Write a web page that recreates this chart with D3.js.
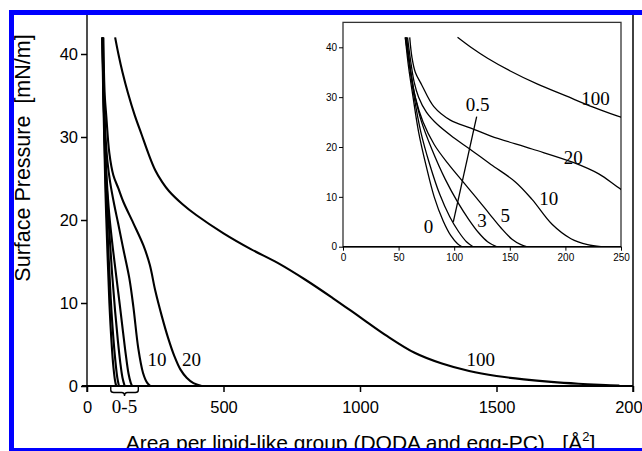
<!DOCTYPE html>
<html><head><meta charset="utf-8">
<script src="https://cdn.jsdelivr.net/npm/d3@7/dist/d3.min.js"></script>
<style>html,body{margin:0;padding:0;background:#fff;overflow:hidden} text{white-space:pre}</style>
</head><body><svg id="c" width="642" height="451" xmlns="http://www.w3.org/2000/svg"></svg>
<script>
// ---- data: surface pressure isotherms [area (Å²), pressure (mN/m)] ----
const curve0   = [[56,42],[59,36],[63,30],[68,23],[75,16],[82,10],[90,5.2],[97,2.2],[103,0.6],[107,0]];
const curve05  = [[56,42],[60,36],[64,30],[70,23],[78,16.5],[87,10.5],[96,6],[104,3],[111,1],[117,0]];
const curve3   = [[57,42],[61,35],[64,31],[70,25.5],[80,19.5],[92,13.5],[103,9],[113,5.5],[122,2.8],[130,1],[138,0]];
const curve5   = [[57,42],[61,35],[65,30],[72,25],[82,20.5],[95,16.5],[108,13],[120,9.8],[132,6.5],[142,3.8],[152,1.5],[160,0.4],[165,0]];
const curve10  = [[58,42],[61,37],[64,33],[68,30],[75,27],[85,24.5],[100,21.8],[114,19.6],[133,16.5],[155,13],[170,9.5],[188,4.5],[205,1.6],[220,0.4],[232,0]];
const curve20  = [[60,42],[62,38],[65,35],[70.7,32.5],[81.7,28.1],[96.5,25.4],[115,23.8],[133,22.2],[170,19.6],[207,16.9],[230,14.6],[250,11.5],[275,8.3],[297,5.8],[320,3.6],[342,2.0],[365,1.0],[390,0.35],[420,0]];
const curve100 = [[103,42],[115,40],[130,37.8],[150,35.3],[175,32.6],[200,30.3],[225,28],[250,26],[275,24.6],[300,23.5],[350,21.9],[400,20.6],[500,18.4],[600,16.5],[700,14.8],[800,12.8],[900,10.6],[1000,8.3],[1100,6.0],[1200,4.0],[1300,2.7],[1400,1.8],[1500,1.2],[1600,0.8],[1700,0.5],[1800,0.28],[1900,0.12],[1950,0.05]];
const allCurves = [curve0, curve05, curve3, curve5, curve10, curve20, curve100];

const mainXTicks = [0, 500, 1000, 1500, 2000];
const mainYTicks = [0, 10, 20, 30, 40];
const insetXTicks = [0, 50, 100, 150, 200, 250];
const insetYTicks = [0, 10, 20, 30, 40];

// curve labels: [text, x, baseline y] in data units
const mainLabels = [["10", 256, 2.4], ["20", 383, 2.4], ["100", 1442, 2.4]];
const bracketRange = [87, 188];
const bracketLabel = "0-5";
const insetLabels = [["100", 227, 28.4], ["0.5", 121, 27.3], ["20", 207, 16.6], ["10", 185, 8.3], ["5", 146, 5.0], ["3", 125, 4.0], ["0", 77, 2.75]];
const pointer = [[99.2, 5.0], [120.2, 26.1]];

const svg = d3.select("#c");
const sans = "'Liberation Sans', Arial, sans-serif";
const serif = "'Liberation Serif', 'Times New Roman', serif";
const smooth = d3.curveCatmullRom.alpha(0.5);

// ---- main plot ----
const x = d3.scaleLinear().domain([0, 2000]).range([87, 633]);
const y = d3.scaleLinear().domain([0, 40]).range([386, 54]);

const gMain = svg.append("g");
gMain.append("line").attr("x1", x(0)).attr("x2", x(0)).attr("y1", 14).attr("y2", y(0) + 6)
  .attr("stroke", "#222").attr("stroke-width", 1.6);
gMain.append("line").attr("x1", x(2000)).attr("x2", x(2000)).attr("y1", 14).attr("y2", y(0) + 6)
  .attr("stroke", "#111").attr("stroke-width", 1.6);
gMain.append("line").attr("x1", x(0) - 5).attr("x2", x(2000)).attr("y1", y(0)).attr("y2", y(0))
  .attr("stroke", "#000").attr("stroke-width", 2);

const ax = gMain.append("g").attr("transform", `translate(0,${y(0)})`)
  .call(d3.axisBottom(x).tickValues(mainXTicks).tickSize(6).tickPadding(9).tickFormat(d3.format("d")));
ax.select(".domain").remove();
ax.selectAll("line").attr("stroke-width", 1.5);
ax.selectAll("text").attr("font-family", sans).attr("font-size", 16.5).attr("fill", "#000");

const ay = gMain.append("g").attr("transform", `translate(${x(0)},0)`)
  .call(d3.axisLeft(y).tickValues(mainYTicks).tickSize(6).tickPadding(3));
ay.select(".domain").remove();
ay.selectAll("line").attr("stroke-width", 1.5);
ay.selectAll("text").attr("font-family", sans).attr("font-size", 16.5).attr("fill", "#000");

const lineMain = d3.line().x(d => x(d[0])).y(d => y(d[1])).curve(smooth);
gMain.selectAll("path.c").data(allCurves).join("path").attr("class", "c")
  .attr("d", lineMain).attr("fill", "none").attr("stroke", "#000").attr("stroke-width", 2.1);

gMain.selectAll("text.lab").data(mainLabels).join("text").attr("class", "lab")
  .attr("x", d => x(d[1])).attr("y", d => y(d[2])).attr("text-anchor", "middle")
  .attr("font-family", serif).attr("font-size", 19).text(d => d[0]);

// bracket under axis for 0-5 curves
{
  const bx0 = x(bracketRange[0]), bx1 = x(bracketRange[1]), bm = (bx0 + bx1) / 2, by = y(0);
  const p = `M${bx0},${by} L${bx0},${by + 4} Q${bx0},${by + 6.5} ${bx0 + 3},${by + 6.5} L${bm - 3},${by + 6.5} Q${bm},${by + 6.5} ${bm},${by + 10} Q${bm},${by + 6.5} ${bm + 3},${by + 6.5} L${bx1 - 3},${by + 6.5} Q${bx1},${by + 6.5} ${bx1},${by + 4} L${bx1},${by}`;
  gMain.append("path").attr("d", p).attr("fill", "none").attr("stroke", "#000").attr("stroke-width", 1.4);
  gMain.append("text").attr("x", bm).attr("y", 413).attr("text-anchor", "middle")
    .attr("font-family", serif).attr("font-size", 19).text(bracketLabel);
}

// axis titles
svg.append("text").attr("transform", "translate(30,158) rotate(-90)").attr("text-anchor", "middle")
  .attr("font-family", sans).attr("font-size", 21.5).text("Surface Pressure  [mN/m]");
const xt = svg.append("text").attr("x", 360.5).attr("y", 449.5).attr("text-anchor", "middle")
  .attr("font-family", sans).attr("font-size", 21);
xt.append("tspan").text("Area per lipid-like group (DODA and egg-PC)   [Å");
xt.append("tspan").attr("font-size", 13).attr("dy", -9).text("2");
xt.append("tspan").attr("dy", 9).text("]");

// ---- inset ----
const xi = d3.scaleLinear().domain([0, 250]).range([343, 621]);
const yi = d3.scaleLinear().domain([0, 40]).range([246.7, 47.3]);
const gIn = svg.append("g");
gIn.append("rect").attr("x", xi(0)).attr("y", yi(45)).attr("width", xi(250) - xi(0)).attr("height", yi(0) - yi(45))
  .attr("fill", "#fff").attr("stroke", "#333").attr("stroke-width", 1.3);
svg.append("defs").append("clipPath").attr("id", "clipIn").append("rect")
  .attr("x", xi(0)).attr("y", yi(45)).attr("width", xi(250) - xi(0)).attr("height", yi(0) - yi(45));

const axi = gIn.append("g").attr("transform", `translate(0,${yi(0)})`)
  .call(d3.axisBottom(xi).tickValues(insetXTicks).tickSize(4).tickPadding(3));
axi.select(".domain").remove();
axi.selectAll("text").attr("font-family", sans).attr("font-size", 10).attr("fill", "#000");
const ayi = gIn.append("g").attr("transform", `translate(${xi(0)},0)`)
  .call(d3.axisLeft(yi).tickValues(insetYTicks).tickSize(4).tickPadding(2));
ayi.select(".domain").remove();
ayi.selectAll("text").attr("font-family", sans).attr("font-size", 10).attr("fill", "#000");
gIn.append("line").attr("x1", xi(0)).attr("x2", xi(250)).attr("y1", yi(0)).attr("y2", yi(0))
  .attr("stroke", "#000").attr("stroke-width", 1.6);

const lineIn = d3.line().x(d => xi(d[0])).y(d => yi(d[1])).curve(smooth);
gIn.append("g").attr("clip-path", "url(#clipIn)").selectAll("path").data(allCurves).join("path")
  .attr("d", lineIn).attr("fill", "none").attr("stroke", "#000").attr("stroke-width", 1.3);

gIn.append("line").attr("x1", xi(pointer[0][0])).attr("y1", yi(pointer[0][1]))
  .attr("x2", xi(pointer[1][0])).attr("y2", yi(pointer[1][1])).attr("stroke", "#000").attr("stroke-width", 1.3);

gIn.selectAll("text.lab").data(insetLabels).join("text").attr("class", "lab")
  .attr("x", d => xi(d[1])).attr("y", d => yi(d[2])).attr("text-anchor", "middle")
  .attr("font-family", serif).attr("font-size", 19).text(d => d[0]);

// ---- blue frame ----
svg.append("rect").attr("x", 11.5).attr("y", 12.5).attr("width", 700).attr("height", 438)
  .attr("fill", "none").attr("stroke", "#0000ff").attr("stroke-width", 5);
</script></body></html>
